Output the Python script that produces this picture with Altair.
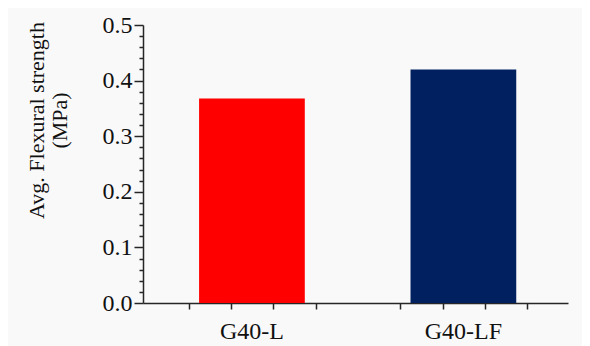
import altair as alt
import pandas as pd

categories = ["G40-L", "G40-LF"]
strength = [0.368, 0.420]
bar_colors = ["#ff0000", "#002060"]

df = pd.DataFrame({"mix": categories, "strength": strength})

FONT = "Times New Roman, Liberation Serif, serif"
AX = "#262626"
major_test = "abs(datum.value*10 - round(datum.value*10)) < 0.001"
y_values = [round(i * 0.02, 2) for i in range(26)]

bars = alt.Chart(df).mark_bar().encode(
    x=alt.X(
        "mix:N",
        sort=categories,
        scale=alt.Scale(paddingInner=0.5, paddingOuter=0.255, align=0.52),
        axis=alt.Axis(
            title=None, orient="bottom", ticks=False, tickSize=0, labelAngle=0,
            labelFont=FONT, labelFontSize=24, labelColor="#111",
            labelPadding=16, labelBaseline="top",
            domainColor=AX, domainWidth=1.5, grid=False,
        ),
    ),
    y=alt.Y(
        "strength:Q",
        scale=alt.Scale(domain=[0, 0.5], nice=False, zero=True),
        axis=alt.Axis(
            title=["Avg. Flexural strength", "(MPa)"],
            titleFont=FONT, titleFontSize=22, titleFontWeight="normal",
            titleColor="#111", titleAngle=-90, titleAlign="center",
            titleBaseline="top", titleX=-117, titleY=95, titleLineHeight=23,
            values=y_values,
            labelExpr=f"{major_test} ? format(datum.value, '.1f') : ''",
            labelOverlap=False, labelFont=FONT, labelFontSize=24,
            labelColor="#111", labelPadding=2,
            tickSize={"condition": {"test": major_test, "value": 9}, "value": 4},
            tickColor=AX, tickWidth=1.5,
            domainColor=AX, domainWidth=1.5, grid=False,
        ),
    ),
    color=alt.Color(
        "mix:N", sort=categories,
        scale=alt.Scale(domain=categories, range=bar_colors), legend=None,
    ),
)

tick_layer = alt.Chart(df).mark_point(opacity=0).encode(
    x=alt.X(
        datum=0, type="quantitative",
        scale=alt.Scale(domain=[-0.08, 9.96], nice=False, zero=False),
        axis=alt.Axis(
            title=None, orient="bottom", labels=False, domain=False, grid=False,
            values=[1, 2, 3, 4, 6, 7, 8, 9], tickSize=6, tickColor=AX,
            tickWidth=1.5,
        ),
    ),
)

chart = (
    alt.layer(bars, tick_layer)
    .resolve_scale(x="independent")
    .resolve_axis(x="independent")
    .properties(
        width=425, height=278,
        background="#f9f9f9",
        padding={"left": 135, "top": 17, "right": 14, "bottom": 43},
        autosize=alt.AutoSizeParams(type="none"),
    )
    .configure_view(stroke=None)
)

chart.save("out.html", embed_options={"renderer": "svg", "actions": False})
